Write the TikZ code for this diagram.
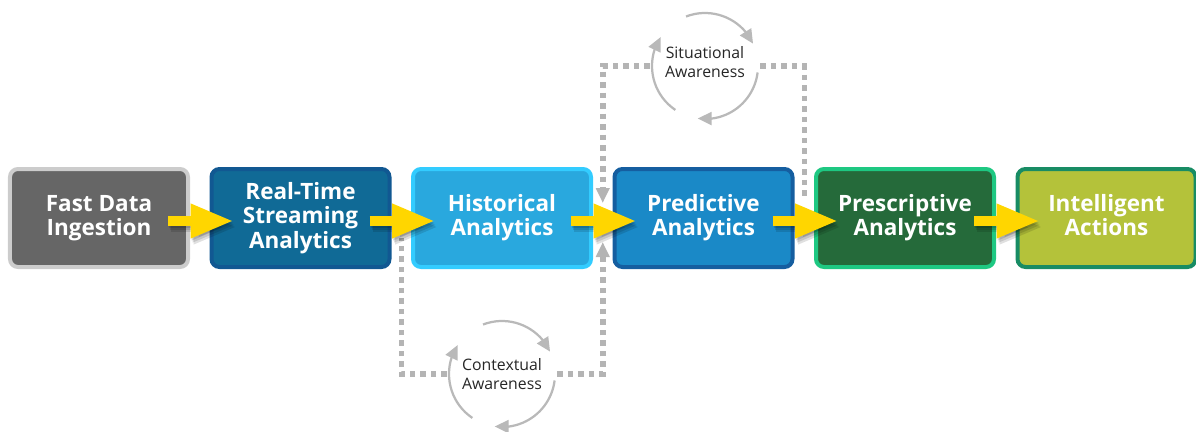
\documentclass[tikz,border=0pt]{standalone}
\usepackage{fontspec}
\setmainfont{Open Sans}
\usetikzlibrary{arrows.meta,bending,calc,positioning}
\definecolor{ingestfill}{RGB}{102,102,102}
\definecolor{ingestline}{RGB}{204,204,204}
\definecolor{streamfill}{RGB}{16,106,150}
\definecolor{streamline}{RGB}{17,88,146}
\definecolor{histfill}{RGB}{41,168,222}
\definecolor{histline}{RGB}{51,204,255}
\definecolor{predfill}{RGB}{26,137,199}
\definecolor{predline}{RGB}{21,94,160}
\definecolor{prescfill}{RGB}{37,106,58}
\definecolor{prescline}{RGB}{30,200,130}
\definecolor{actfill}{RGB}{180,194,58}
\definecolor{actline}{RGB}{24,140,100}
\definecolor{arrowyellow}{RGB}{255,214,0}
\definecolor{dotgray}{RGB}{180,180,180}
\definecolor{loopgray}{RGB}{185,185,185}
\tikzset{stage/.style={rectangle, rounded corners=0.16cm, minimum width=3.56cm, minimum height=1.96cm, line width=0.08cm, align=center, text=white, font=\bfseries\fontsize{12.8}{13.8}\selectfont}}

\begin{document}
\begin{tikzpicture}
\useasboundingbox (0,0) rectangle (23.92,8.62);
\tikzstyle{flow} = [line width=0.2cm, draw=arrowyellow, -{Triangle[length=0.86cm,width=0.64cm]}]
\tikzstyle{flowshadow} = [line width=0.2cm, draw=black, opacity=0.22, -{Triangle[length=0.86cm,width=0.64cm]}]
\tikzstyle{dots} = [draw=dotgray, line width=0.11cm, dash pattern=on 0.11cm off 0.1cm]
\tikzstyle{dotarrow} = [dots, -{Triangle[length=0.3cm,width=0.26cm]}]
\tikzstyle{loop} = [draw=loopgray, line width=0.045cm, -{Triangle[length=0.28cm,width=0.26cm]}]
\tikzstyle{aware} = [circle, minimum size=2.2cm, inner sep=0pt]
\tikzstyle{awaretext} = [align=center, text=black!85, font=\fontsize{9}{10.8}\selectfont]

\node (ingest) [stage, fill=ingestfill, draw=ingestline] at (1.98,4.26) {Fast Data\\Ingestion};
\node (stream) [stage, fill=streamfill, draw=streamline, right=0.39cm of ingest] {Real-Time\\Streaming\\Analytics};
\node (hist) [stage, fill=histfill, draw=histline, right=0.39cm of stream] {Historical\\Analytics};
\node (pred) [stage, fill=predfill, draw=predline, right=0.39cm of hist] {Predictive\\Analytics};
\node (presc) [stage, fill=prescfill, draw=prescline, right=0.39cm of pred] {Prescriptive\\Analytics};
\node (act) [stage, fill=actfill, draw=actline, right=0.39cm of presc] {Intelligent\\Actions\vphantom{g}};

\node (sit) [aware] at (14.10,7.30) {};
\node (sittext) [awaretext] at ([yshift=0.08cm]sit) {Situational\\Awareness};
\node (ctx) [aware] at (10.04,1.14) {};
\node (ctxtext) [awaretext] at (ctx) {Contextual\\Awareness};

% feedback loops
\coordinate (sitdown) at ($(hist.east)!0.5!(pred.west)+(0,0.30)$);
\coordinate (sitend) at ($(pred.east)!0.5!(presc.west)+(0,0.36)$);
\coordinate (ctxup) at ($(hist.east)!0.5!(pred.west)+(0,-0.48)$);
\coordinate (ctxend) at ($(stream.east)!0.5!(hist.west)+(0,-0.40)$);
\draw [dotarrow] (sit) -| (sitdown);
\draw [dots] (sit) -| (sitend);
\draw [dotarrow] (ctx) -| (ctxup);
\draw [dots] (ctx) -| (ctxend);

\foreach \c in {sit,ctx}
  \foreach \a/\b in {111/25,-7/-98,236/147}
    \draw [loop] ($(\c)+(\a:1.06cm)$) arc[start angle=\a, end angle=\b, radius=1.06cm];

% yellow arrows with a soft shadow
\foreach \s/\t in {ingest/stream,stream/hist,hist/pred,pred/presc,presc/act} {
  \foreach \d in {0.04,0.08,0.12}
    \draw [flowshadow, opacity=0.12] ([xshift=-0.44cm+0.5*\d cm,yshift=-0.06cm-\d cm]\s.east) -- ([xshift=0.48cm+0.5*\d cm,yshift=-0.06cm-\d cm]\t.west);
  \draw [flow] ([xshift=-0.44cm,yshift=-0.06cm]\s.east) -- ([xshift=0.48cm,yshift=-0.06cm]\t.west);
}

\end{tikzpicture}
\end{document}
